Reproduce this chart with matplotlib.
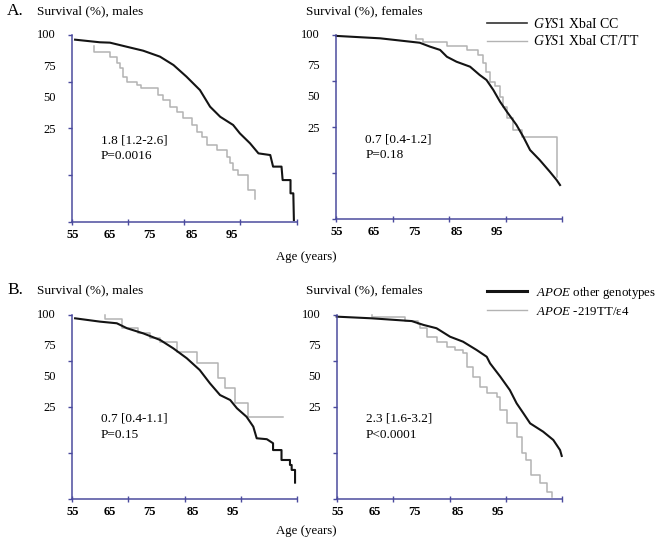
import numpy as np
import matplotlib
matplotlib.use("Agg")
import matplotlib.pyplot as plt
from matplotlib.lines import Line2D

plt.rcParams['font.family'] = ['Liberation Serif', 'DejaVu Serif']
plt.rcParams['mathtext.fontset'] = 'custom'
plt.rcParams['mathtext.rm'] = 'Liberation Serif'
plt.rcParams['mathtext.it'] = 'Liberation Serif:italic'

# --- data (age in years, survival in %) ---
# A. GYS1 XbaI, males
a_m_cc_age = [55.6, 60.0, 61.8, 64.8, 67.7, 70.7, 73.1, 75.4, 77.8, 79.6, 81.4, 83.7, 84.9,
              86.7, 88.2, 90.3, 90.8, 92.3, 92.5, 93.9, 93.9, 94.4, 94.5]
a_m_cc_surv = [97.5, 96.1, 95.9, 93.7, 91.6, 88.4, 83.9, 77.7, 70.5, 61.6, 56.2, 51.8, 47.3,
               42.0, 36.6, 35.7, 29.5, 29.5, 22.3, 22.3, 15.2, 15.2, 0.9]
a_m_ct_age = [59.0, 59.0, 61.8, 63.0, 63.6, 64.2, 64.8, 66.6, 67.4, 70.4, 71.3, 72.5, 73.7,
              74.8, 76.3, 77.2, 78.1, 79.0, 80.8, 82.6, 83.1, 83.7, 84.5, 86.4, 87.6]
a_m_ct_surv = [94.1, 91.1, 88.4, 84.8, 82.2, 77.7, 75.0, 73.2, 71.4, 67.9, 65.2, 61.6, 58.9,
               55.4, 51.8, 48.2, 45.5, 41.1, 38.4, 34.8, 31.3, 27.7, 25.0, 17.0, 12.0]

# A. GYS1 XbaI, females
a_f_cc_age = [55.1, 62.8, 69.8, 71.6, 73.4, 74.6, 76.3, 78.7, 80.4, 81.6, 82.8, 84.0, 85.2,
              86.9, 88.1, 89.3, 91.0, 92.8, 94.0, 94.6]
a_f_cc_surv = [99.5, 98.2, 95.8, 93.7, 91.9, 88.2, 85.5, 82.8, 78.3, 75.6, 70.2, 63.8, 58.4,
               51.2, 44.8, 37.6, 32.2, 25.8, 21.3, 18.6]
a_f_ct_age = [69.1, 69.1, 70.4, 74.6, 78.1, 80.1, 81.0, 81.6, 82.2, 83.1, 84.0, 84.6, 85.2,
              86.3, 87.8, 94.0]
a_f_ct_surv = [100.0, 97.7, 96.4, 94.0, 91.9, 89.1, 84.6, 80.1, 74.7, 72.3, 66.5, 61.1, 54.8,
               48.5, 44.5, 23.1]

# B. APOE, males
b_m_oth_age = [55.6, 60.0, 63.0, 64.8, 67.7, 70.7, 73.0, 75.4, 77.7, 79.5, 81.3, 83.1, 84.3,
               86.0, 87.2, 87.8, 89.6, 90.7, 90.7, 92.2, 92.2, 93.7, 93.7, 94.0, 94.0, 94.6, 94.6]
b_m_oth_surv = [98.2, 96.4, 95.5, 92.8, 90.0, 86.4, 81.9, 76.5, 70.1, 62.9, 56.5, 53.8, 49.3,
                44.7, 39.3, 33.0, 32.5, 30.3, 26.6, 26.6, 21.2, 21.2, 18.5, 18.5, 15.8, 15.8, 8.9]
b_m_tt_age = [60.9, 60.9, 63.9, 66.8, 68.9, 70.7, 73.6, 77.2, 81.0, 82.2, 83.9, 86.3, 92.4]
b_m_tt_surv = [100.0, 97.8, 92.8, 90.0, 87.3, 85.5, 80.1, 73.7, 65.6, 60.2, 52.0, 44.7, 44.7]

# B. APOE, females
b_f_oth_age = [55.0, 61.2, 68.3, 70.4, 72.7, 75.1, 77.4, 79.8, 81.6, 82.2, 84.0, 85.7, 86.9,
               88.1, 89.3, 91.6, 93.4, 94.6, 94.9]
b_f_oth_surv = [99.1, 98.2, 96.7, 94.6, 92.8, 88.2, 85.5, 81.0, 77.3, 73.7, 66.5, 59.2, 52.0,
                46.6, 41.1, 36.6, 32.1, 26.6, 23.4]
b_f_tt_age = [61.2, 61.2, 67.1, 69.5, 69.8, 71.0, 72.7, 74.5, 76.0, 77.4, 78.1, 79.2, 80.4,
              81.6, 83.4, 84.0, 85.2, 86.9, 87.8, 88.6, 89.5, 91.0, 92.2, 93.1]
b_f_tt_surv = [100.0, 99.1, 96.7, 95.0, 92.8, 88.2, 85.5, 82.8, 81.0, 79.2, 71.9, 66.5, 61.0,
               57.4, 55.6, 48.4, 41.1, 33.9, 24.8, 21.2, 13.0, 8.5, 4.0, 0.9]

x_ticks = [55, 65, 75, 85, 95]
y_ticks = [0, 25, 50, 75, 100]
x_ticklabels = ['55', '65', '75', '85', '95']
y_ticklabels = ['100', '75', '50', '25']
# where the original (Excel) put its tick labels, in data units
x_label_pos = [55.2, 61.7, 68.8, 76.4, 83.5]
y_label_pos = [100, 83.0, 66.3, 49.2]

stats = [('1.8 [1.2-2.6]', 'P=0.0016'), ('0.7 [0.4-1.2]', 'P=0.18'),
         ('0.7 [0.4-1.1]', 'P=0.15'), ('2.3 [1.6-3.2]', 'P<0.0001')]

AX_COL = '#4b4b9e'
BLACK = '#141414'
GREY = '#b3b3b3'

W, H = 661, 539
fig = plt.figure(figsize=(W / 100, H / 100), dpi=100)


def px_axes(x0, x1, ytop, ybot):
    return fig.add_axes([x0 / W, 1 - ybot / H, (x1 - x0) / W, (ybot - ytop) / H])


axes = [px_axes(71.7, 296.7, 35, 221.7), px_axes(336, 562.3, 35, 219.3),
        px_axes(71.7, 297.3, 315, 499), px_axes(336.7, 562.3, 315, 499)]

curves = [(a_m_cc_age, a_m_cc_surv, a_m_ct_age, a_m_ct_surv),
          (a_f_cc_age, a_f_cc_surv, a_f_ct_age, a_f_ct_surv),
          (b_m_oth_age, b_m_oth_surv, b_m_tt_age, b_m_tt_surv),
          (b_f_oth_age, b_f_oth_surv, b_f_tt_age, b_f_tt_surv)]

for ax, (bx, by, gx, gy), (s1, s2) in zip(axes, curves, stats):
    ax.plot(gx, gy, color=GREY, lw=1.1, drawstyle='steps-post', clip_on=False)
    ax.plot(bx, by, color=BLACK, lw=1.5, clip_on=False)
    ax.set_xlim(55, 95)
    ax.set_ylim(0, 100)
    for s in ['top', 'right']:
        ax.spines[s].set_visible(False)
    for s in ['left', 'bottom']:
        ax.spines[s].set_color(AX_COL)
        ax.spines[s].set_linewidth(1.1)
    ax.set_xticks(x_ticks)
    ax.set_yticks(y_ticks)
    ax.set_xticklabels([])
    ax.set_yticklabels([])
    ax.tick_params(axis='x', direction='inout', length=5, width=1, color=AX_COL)
    ax.tick_params(axis='y', direction='out', length=3, width=1, color=AX_COL)
    for lab, xv in zip(x_ticklabels, x_label_pos):
        ax.annotate(lab, xy=(xv, 0), xycoords=('data', 'axes fraction'),
                    xytext=(0, -13), textcoords='offset pixels',
                    ha='center', va='center', fontsize=9, fontweight='bold')
    for lab, yv in zip(y_ticklabels, y_label_pos):
        ax.annotate(lab, xy=(0, yv), xycoords=('axes fraction', 'data'),
                    xytext=(-16, 0), textcoords='offset pixels',
                    ha='right', va='center', fontsize=9)
    ax.text(0.13, 0.435, s1, transform=ax.transAxes, fontsize=9.5, va='center')
    ax.text(0.13, 0.35, s2, transform=ax.transAxes, fontsize=9.5, va='center')


def ftext(x, y, s, **kw):
    fig.text(x / W, 1 - y / H, s, va='center', **kw)


ftext(7, 11, 'A.', fontsize=12.5)
ftext(7, 290, 'B.', fontsize=12.5)
for yy in (11, 290):
    ftext(36.7, yy, 'Survival (%), males', fontsize=9.5)
    ftext(306.5, yy, 'Survival (%), females', fontsize=9.5)
ftext(306.5, 257, 'Age (years)', fontsize=9.3, ha='center')
ftext(306.5, 531, 'Age (years)', fontsize=9.3, ha='center')

leg_a = [Line2D([], [], color='#333333', lw=1.2), Line2D([], [], color=GREY, lw=1.0)]
fig.legend(leg_a, [r'$\mathit{GYS1}$ XbaI CC', r'$\mathit{GYS1}$ XbaI CT/TT'],
           loc='upper left', bbox_to_anchor=(486.7 / W, 1 - 17 / H), frameon=False,
           fontsize=10, handlelength=2.9, handletextpad=0.45, labelspacing=0.25,
           borderpad=0, borderaxespad=0)
leg_b = [Line2D([], [], color=BLACK, lw=2.2), Line2D([], [], color=GREY, lw=1.0)]
fig.legend(leg_b, [r'$\mathit{APOE}$ other genotypes', r'$\mathit{APOE}$ -219TT/ε4'],
           loc='upper left', bbox_to_anchor=(486.7 / W, 1 - 285 / H), frameon=False,
           fontsize=9.3, handlelength=3.1, handletextpad=0.75, labelspacing=0.35,
           borderpad=0, borderaxespad=0)

fig.savefig('out.png', dpi=100)
